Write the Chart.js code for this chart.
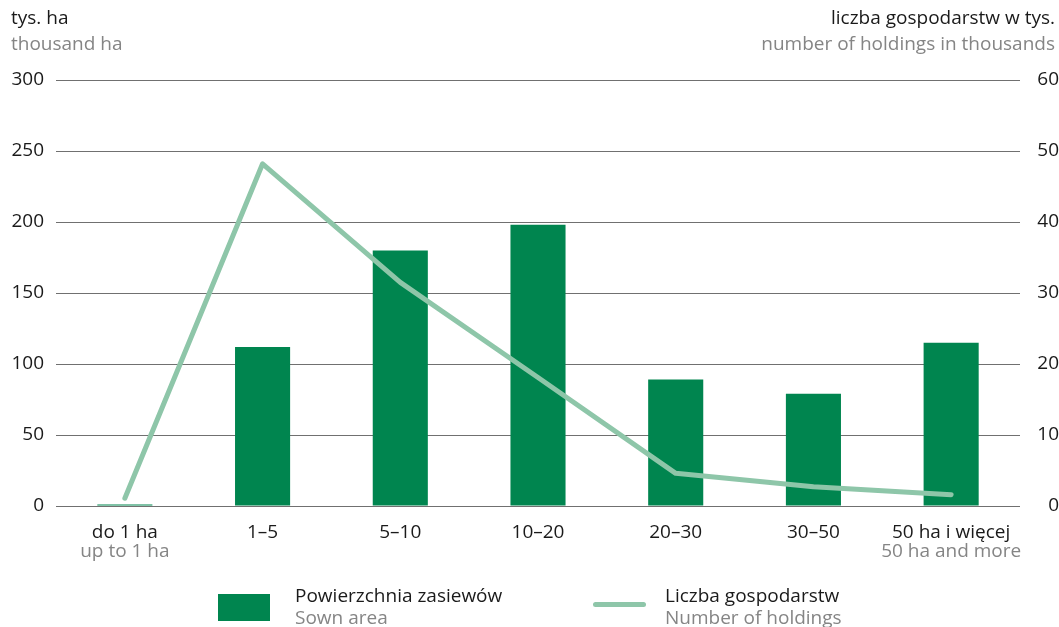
<!DOCTYPE html>
<html>
<head>
<meta charset="utf-8">
<script src="https://cdn.jsdelivr.net/npm/chart.js@4"></script>
<style>
  body { margin: 0; background: #fff; font-family: "Open Sans", sans-serif; }
  #wrap { position: relative; width: 1059px; height: 627px; }
  .t { position: absolute; font-size: 19px; line-height: 26px; white-space: nowrap; }
  .pl { color: #1a1a1a; }
  .en { color: #858585; }
</style>
</head>
<body>
<div id="wrap">
  <canvas id="chart" width="1059" height="627"></canvas>
  <div class="t" style="left:11px;top:4px"><div class="pl">tys. ha</div><div class="en">thousand ha</div></div>
  <div class="t" style="right:4px;top:4px;text-align:right"><div class="pl">liczba gospodarstw w tys.</div><div class="en">number of holdings in thousands</div></div>
  <div style="position:absolute;left:218px;top:594px;width:52px;height:27px;background:#00854f"></div>
  <div class="t" style="left:295px;top:584px;line-height:22px"><div class="pl">Powierzchnia zasiewów</div><div class="en">Sown area</div></div>
  <div style="position:absolute;left:593px;top:602px;width:53px;height:5px;border-radius:3px;background:#8ec6a9"></div>
  <div class="t" style="left:665px;top:584px;line-height:22px"><div class="pl">Liczba gospodarstw</div><div class="en">Number of holdings</div></div>
</div>
<script>
const categories = ['do 1 ha', '1–5', '5–10', '10–20', '20–30', '30–50', '50 ha i więcej'];
const categoriesEn = ['up to 1 ha', '', '', '', '', '', '50 ha and more'];
const sownArea = [1, 112, 180, 198, 89, 79, 115];
const holdings = [1.1, 48.2, 31.5, 18.1, 4.6, 2.7, 1.6];
const leftTicks = [0, 50, 100, 150, 200, 250, 300];

const subLabels = {
  id: 'subLabels',
  afterDraw(chart) {
    const ctx = chart.ctx;
    const x = chart.scales.x;
    ctx.save();
    ctx.font = '19px "Open Sans"';
    ctx.fillStyle = '#858585';
    ctx.textAlign = 'center';
    ctx.textBaseline = 'middle';
    categoriesEn.forEach((t, i) => {
      if (t) ctx.fillText(t, x.getPixelForValue(i), 552);
    });
    ctx.restore();
  }
};

new Chart(document.getElementById('chart').getContext('2d'), {
  data: {
    labels: categories,
    datasets: [
      {
        type: 'line',
        label: 'Liczba gospodarstw',
        data: holdings,
        yAxisID: 'y2',
        borderColor: '#8ec6a9',
        borderWidth: 5,
        borderCapStyle: 'round',
        borderJoinStyle: 'round',
        pointRadius: 0,
        tension: 0
      },
      {
        type: 'bar',
        label: 'Powierzchnia zasiewów',
        data: sownArea,
        yAxisID: 'y',
        backgroundColor: '#00854f',
        barPercentage: 0.4,
        categoryPercentage: 1
      }
    ]
  },
  options: {
    responsive: false,
    animation: false,
    layout: { padding: { top: 80, bottom: 0, left: 0, right: 0 } },
    plugins: { legend: { display: false }, tooltip: { enabled: false } },
    scales: {
      x: {
        grid: { display: false },
        border: { display: false },
        ticks: { color: '#1a1a1a', font: { family: 'Open Sans', size: 19 }, padding: 7, maxRotation: 0 },
        afterFit(s) { s.height = 121; }
      },
      y: {
        position: 'left',
        min: 0, max: 300,
        afterBuildTicks(s) { s.ticks = leftTicks.map(v => ({ value: v })); },
        grid: { color: '#707070', lineWidth: 1, drawTicks: false },
        border: { display: false },
        ticks: { color: '#1a1a1a', font: { family: 'Open Sans', size: 19 }, padding: 12 },
        afterFit(s) { s.width = 56; }
      },
      y2: {
        position: 'right',
        min: 0, max: 60,
        ticks: { stepSize: 10, color: '#1a1a1a', font: { family: 'Open Sans', size: 19 }, padding: 12, crossAlign: 'far' },
        grid: { display: false, drawTicks: false },
        border: { display: false },
        afterFit(s) { s.width = 39; }
      }
    }
  },
  plugins: [subLabels]
});
</script>
</body>
</html>
